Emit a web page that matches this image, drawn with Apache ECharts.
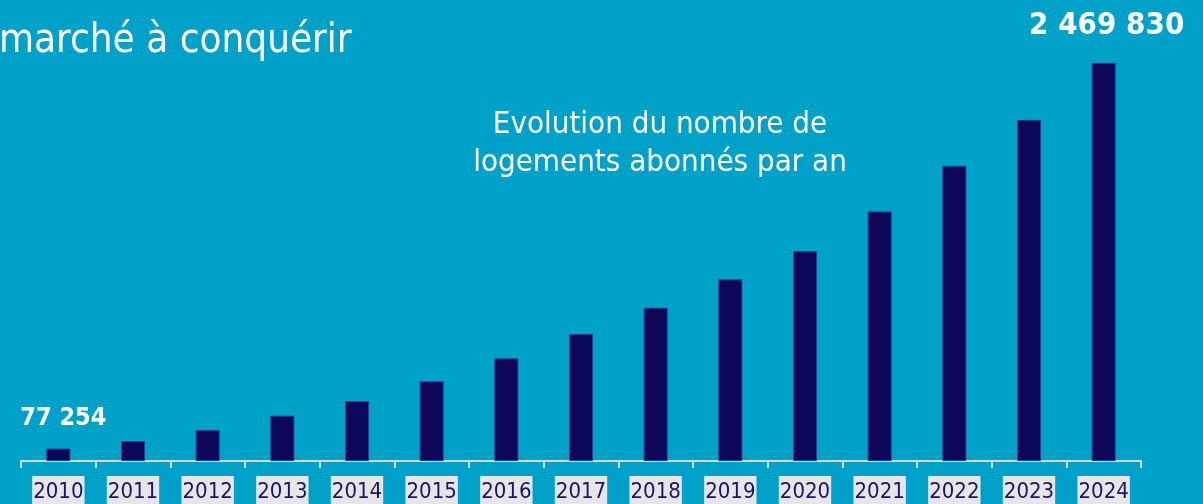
<!DOCTYPE html>
<html>
<head>
<meta charset="utf-8">
<script src="https://cdn.jsdelivr.net/npm/echarts@6/dist/echarts.min.js"></script>
<style>
html,body{margin:0;padding:0;background:#00a1c9;}
#c{width:1203px;height:504px;}
</style>
</head>
<body>
<div id="c"></div>
<script>
const categories = ['2010','2011','2012','2013','2014','2015','2016','2017','2018','2019','2020','2021','2022','2023','2024'];
const values = [77254, 124000, 192000, 281000, 372000, 494000, 637000, 788000, 951000, 1127000, 1302000, 1548000, 1831000, 2116000, 2469830];
const labelledYears = ['2010', '2024'];
const headingText = 'marché à conquérir';
const subtitleLines = ['Evolution du nombre de', 'logements abonnés par an'];

const FONT = "'DejaVu Sans Condensed', 'DejaVu Sans', sans-serif";
function fmt(v){ return String(v).replace(/\B(?=(\d{3})+(?!\d))/g, ' '); }

const data = values.map((v, i) => {
  const item = { value: v };
  if (labelledYears.includes(categories[i])) {
    const last = i === categories.length - 1;
    item.label = {
      show: true, position: 'top', distance: last ? 21 : 18,
      color: '#ffffff', fontWeight: 'bold', fontFamily: FONT,
      fontSize: last ? 31 : 25,
      offset: last ? [3, 0] : [5, 0],
      formatter: p => fmt(p.value)
    };
  }
  return item;
});

const chart = echarts.init(document.getElementById('c'));
chart.setOption({
  backgroundColor: '#00a1c9',
  animation: false,
  grid: { left: 21, right: 62, top: 58, bottom: 43, containLabel: false, outerBoundsMode: 'none' },
  xAxis: {
    type: 'category', data: categories,
    axisLine: { lineStyle: { color: '#d9d9d9', width: 2 } },
    axisTick: { show: true, length: 7, lineStyle: { color: '#d9d9d9', width: 2 } },
    axisLabel: {
      color: '#1b1464', fontFamily: FONT, fontSize: 22, margin: 15,
      backgroundColor: '#e6e6e6', padding: [5, 1, 8, 1], lineHeight: 22
    }
  },
  yAxis: { type: 'value', min: 0, max: 2500000, show: false, splitLine: { show: false } },
  series: [{
    type: 'bar', data: data, barWidth: 24,
    itemStyle: { color: '#0e0659', borderColor: '#1d3f8f', borderWidth: 1 }
  }],
  graphic: [
    { type: 'text', left: -1, top: 22, style: { text: headingText, fill: '#ffffff', font: "40px " + FONT } },
    { type: 'text', x: 660, y: 106, style: { text: subtitleLines.join('\n'), fill: '#ffffff', font: "31px " + FONT, textAlign: 'center', lineHeight: 38 } }
  ]
});
</script>
</body>
</html>
